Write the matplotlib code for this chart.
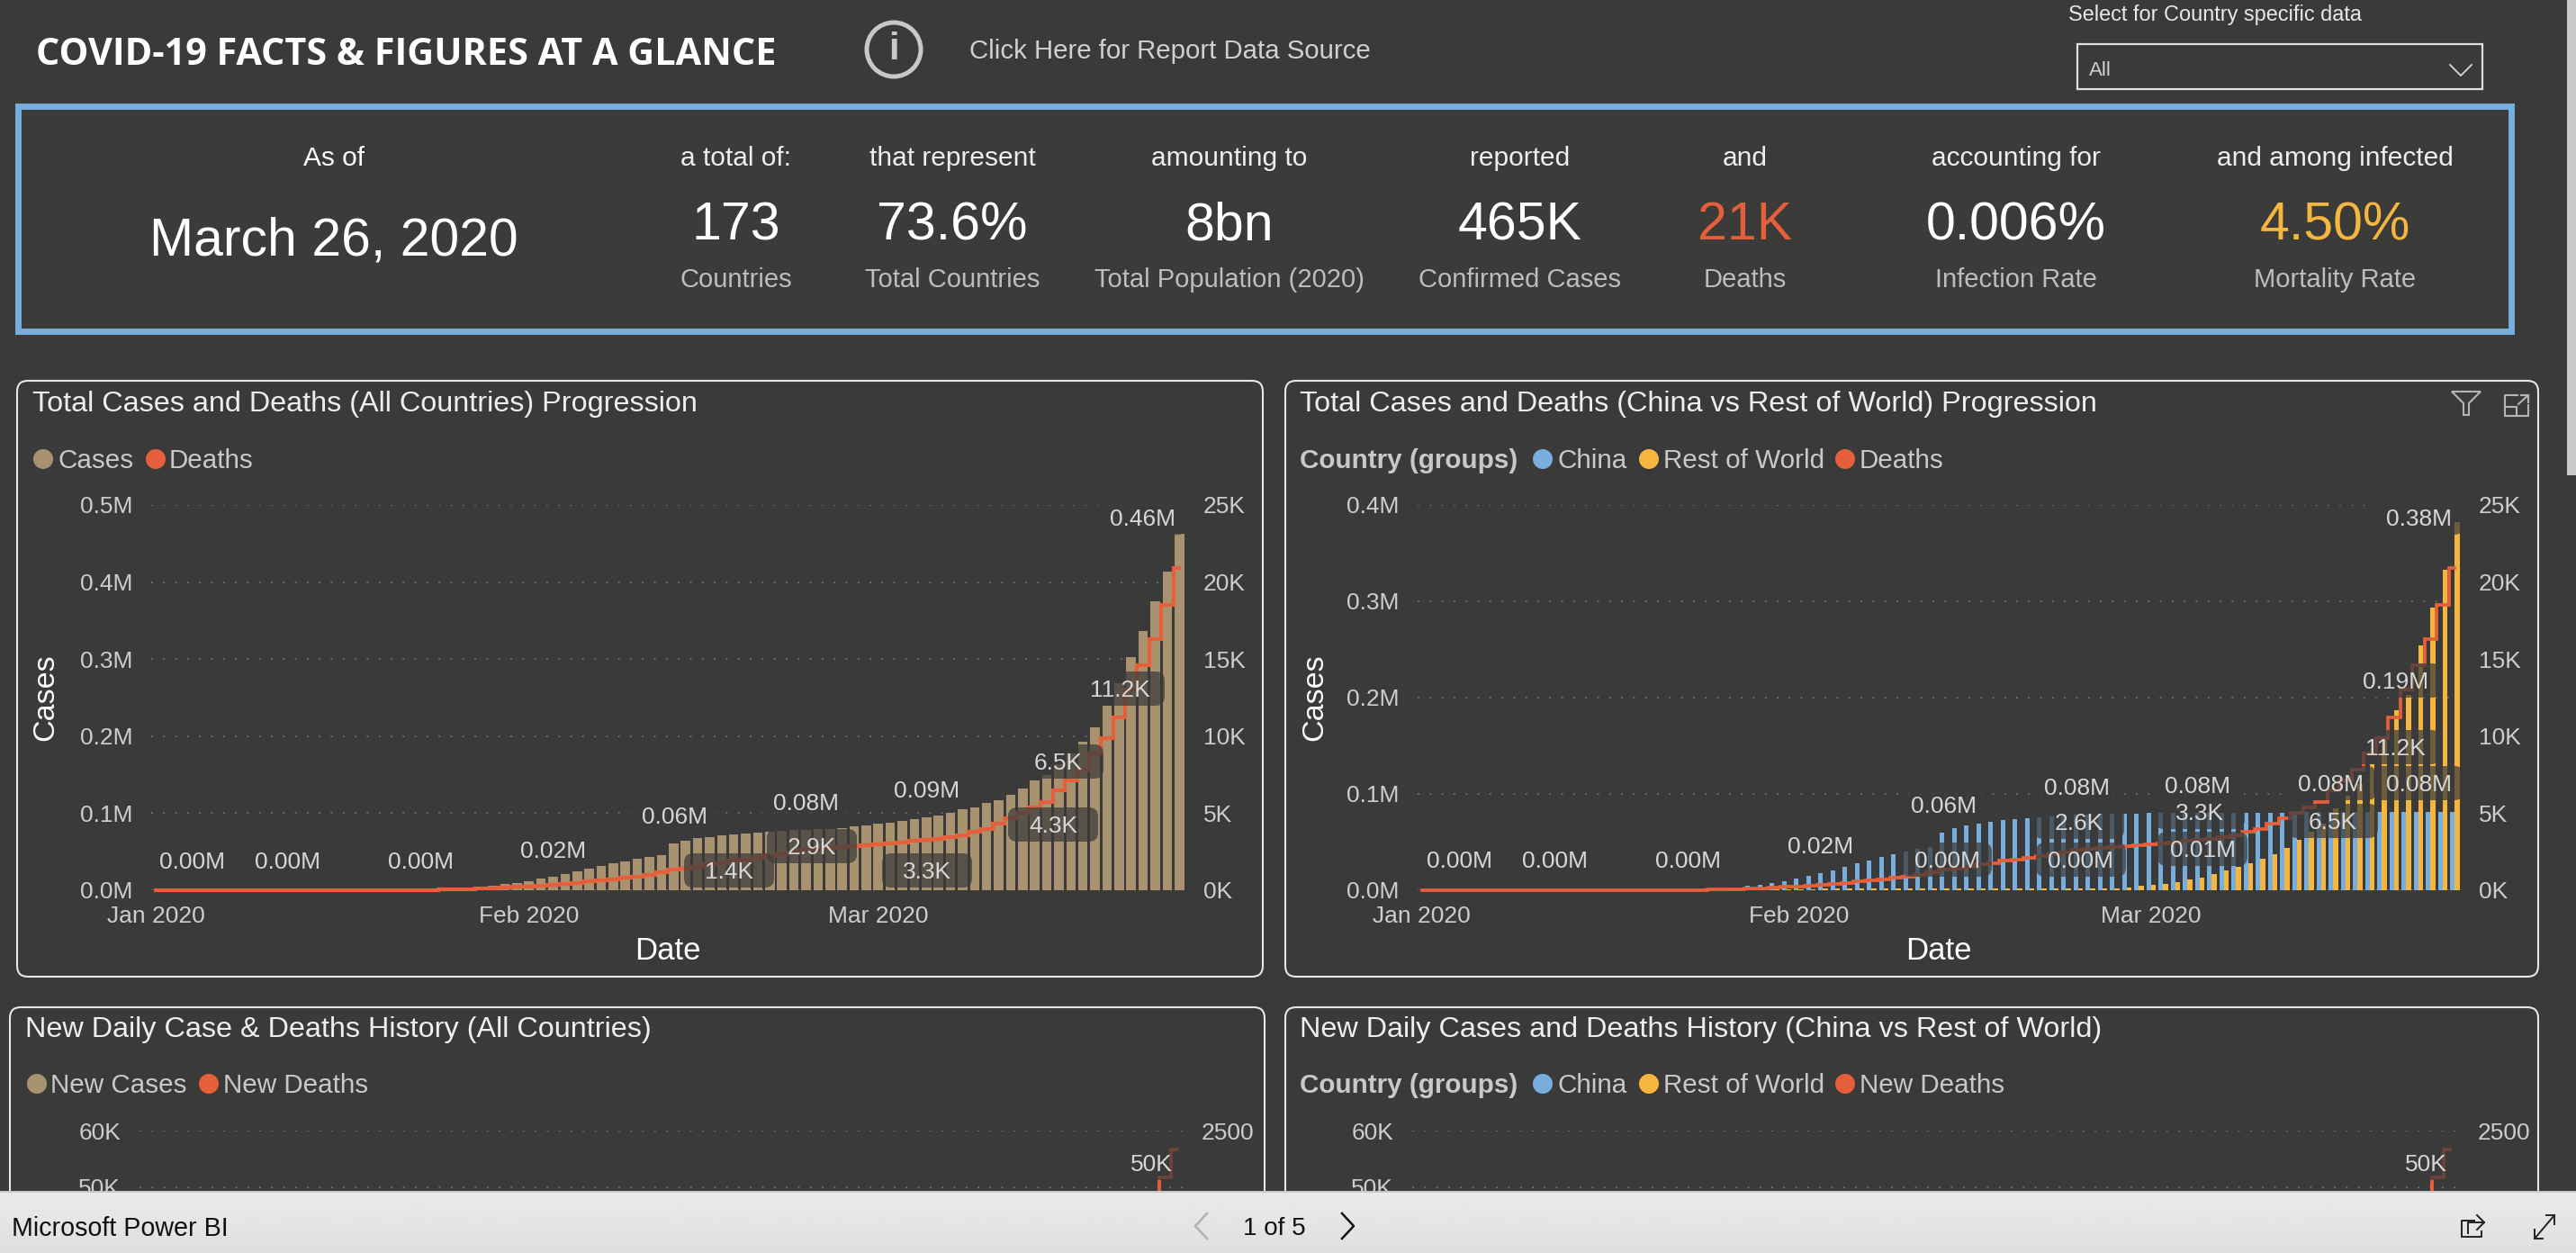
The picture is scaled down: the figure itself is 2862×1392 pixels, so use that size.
import matplotlib
matplotlib.use("Agg")
import matplotlib.pyplot as plt
import numpy as np
from matplotlib.patches import Circle, FancyBboxPatch, Polygon, Rectangle

W, H = 2862, 1392
BG = "#3a3a3a"
TAN = "#a9926f"
ORANGE = "#e5603a"
BLUE = "#77aedd"
YELLOW = "#f4b63f"
TICK_GREY = "#cdcdcd"
BORDER = "#e6e6e6"

# --- values, one per day from Jan 1 to Mar 26 2020 ---
CASES_M = [0.0] * 21 + [
    0.0006, 0.00065, 0.0009, 0.0014, 0.002, 0.0029, 0.0045, 0.0062, 0.0078, 0.0096,
    0.0118, 0.015, 0.0177, 0.0208, 0.0245, 0.0281, 0.0313, 0.0349, 0.0375, 0.0405,
    0.043, 0.0452, 0.0603, 0.0645, 0.0672, 0.069, 0.0712, 0.0728, 0.0741, 0.075,
    0.076, 0.077, 0.078, 0.0785, 0.079, 0.0795, 0.081, 0.0825, 0.0846, 0.086,
    0.088, 0.0895, 0.092, 0.0945, 0.097, 0.1007, 0.105, 0.108, 0.113, 0.117,
    0.124, 0.132, 0.142, 0.15, 0.163, 0.178, 0.193, 0.212, 0.24, 0.269,
    0.303, 0.336, 0.3755, 0.414, 0.463,
]
CHINA_M = [0.0] * 21 + [
    0.00055, 0.00064, 0.0009, 0.0013, 0.002, 0.0028, 0.0044, 0.006, 0.0077, 0.0095,
    0.0117, 0.0148, 0.0175, 0.0205, 0.0243, 0.028, 0.031, 0.0346, 0.0372, 0.0402,
    0.0427, 0.0449, 0.0598, 0.0645, 0.0672, 0.0692, 0.071, 0.073, 0.074, 0.0748,
    0.0757, 0.0766, 0.0775, 0.0785, 0.0785, 0.079, 0.0792, 0.0795, 0.0798, 0.08,
    0.0801, 0.0802, 0.0803, 0.0804, 0.0805, 0.0806, 0.0806, 0.0807, 0.0807, 0.0808,
    0.0808, 0.0809, 0.0809, 0.081, 0.081, 0.0811, 0.0811, 0.0812, 0.0812, 0.0812,
    0.0813, 0.0813, 0.0813, 0.0813, 0.0813,
]
REST_M = [0.0] * 21 + [
    0.0001, 0.0001, 0.0001, 0.0002, 0.0002, 0.0003, 0.0005, 0.0007, 0.0008, 0.001,
    0.0012, 0.0014, 0.0015, 0.0016, 0.0017, 0.0017, 0.0018, 0.0018, 0.0018, 0.0019,
    0.0019, 0.0019, 0.002, 0.002, 0.002, 0.002, 0.002, 0.002, 0.002, 0.002,
    0.002, 0.002, 0.002, 0.002, 0.002, 0.002, 0.002, 0.003, 0.0045, 0.0055,
    0.007, 0.0085, 0.011, 0.013, 0.0168, 0.0206, 0.0243, 0.028, 0.0327, 0.0374,
    0.044, 0.052, 0.0607, 0.069, 0.085, 0.098, 0.11, 0.131, 0.1565, 0.187,
    0.203, 0.254, 0.2933, 0.3327, 0.382,
]
DEATHS_K = [0.0] * 21 + [
    0.017, 0.018, 0.025, 0.041, 0.056, 0.08, 0.106, 0.13, 0.17, 0.21,
    0.26, 0.3, 0.36, 0.43, 0.49, 0.56, 0.64, 0.72, 0.8, 0.9,
    1.0, 1.14, 1.37, 1.39, 1.54, 1.7, 1.77, 1.9, 1.97, 2.1,
    2.2, 2.35, 2.46, 2.6, 2.66, 2.72, 2.8, 2.89, 2.94, 2.99,
    3.05, 3.12, 3.2, 3.27, 3.35, 3.45, 3.56, 3.8, 4.0, 4.3,
    4.7, 5.0, 5.4, 5.75, 6.5, 7.1, 7.8, 8.9, 9.9, 11.2,
    13.0, 14.6, 16.3, 18.5, 20.9,
]
# only the top of the lower charts shows above the bottom bar
LAST_DAYS = [82, 83, 84, 85]
NEW_CASES = [27000, 34000, 41000, 49000]
NEW_DEATHS = [1700, 1900, 2156, 2361]

MONTH_DAYS = [0, 31, 60]
MONTH_LABELS = ["Jan 2020", "Feb 2020", "Mar 2020"]

LEFT_TICKS_ALL = [0, 0.1, 0.2, 0.3, 0.4, 0.5]
LEFT_LABELS_ALL = ["0.0M", "0.1M", "0.2M", "0.3M", "0.4M", "0.5M"]
LEFT_TICKS_CHINA = [0, 0.1, 0.2, 0.3, 0.4]
LEFT_LABELS_CHINA = ["0.0M", "0.1M", "0.2M", "0.3M", "0.4M"]
RIGHT_TICKS = [0, 5, 10, 15, 20, 25]
RIGHT_LABELS = ["0K", "5K", "10K", "15K", "20K", "25K"]

HEADER_COLUMNS = [
    ("a total of:", "173", "Countries", "white"),
    ("that represent", "73.6%", "Total Countries", "white"),
    ("amounting to", "8bn", "Total Population (2020)", "white"),
    ("reported", "465K", "Confirmed Cases", "white"),
    ("and", "21K", "Deaths", ORANGE),
    ("accounting for", "0.006%", "Infection Rate", "white"),
    ("and among infected", "4.50%", "Mortality Rate", YELLOW),
]
HEADER_X = [818, 1058, 1366, 1689, 1939, 2240, 2594]

# pixel centre of each data label: text, x, y
LABELS_ALL = [
    ("0.00M", 213, 956), ("0.00M", 319, 956), ("0.00M", 467, 956), ("0.02M", 615, 944),
    ("0.06M", 749, 906), ("0.08M", 896, 891), ("0.09M", 1030, 877), ("0.46M", 1269, 575),
    ("1.4K", 810, 967), ("2.9K", 902, 940), ("3.3K", 1030, 967), ("4.3K", 1170, 916),
    ("6.5K", 1176, 846), ("11.2K", 1244, 765),
]
LABELS_CHINA = [
    ("0.00M", 1622, 955), ("0.00M", 1727, 955), ("0.00M", 1875, 955), ("0.02M", 2023, 939),
    ("0.06M", 2159, 894), ("0.08M", 2307, 874), ("0.08M", 2442, 872), ("0.08M", 2590, 870),
    ("0.08M", 2687, 870), ("0.38M", 2687, 575), ("0.19M", 2662, 756),
    ("0.00M", 2163, 955), ("0.00M", 2312, 955), ("0.01M", 2447, 943),
    ("2.6K", 2310, 913), ("3.3K", 2444, 902), ("6.5K", 2592, 912), ("11.2K", 2661, 830),
]
LABELS_LOWER = [("50K", 1279, 1292), ("50K", 2695, 1292)]


def px_axes(fig, left, top, right, bottom, zorder=1):
    ax = fig.add_axes(
        [left / W, 1 - bottom / H, (right - left) / W, (bottom - top) / H], zorder=zorder
    )
    ax.patch.set_visible(False)
    return ax


def style_axes(ax, ax2, left_ticks, left_labels, right_ticks, right_labels, pad):
    ax.set_yticks(left_ticks, left_labels)
    ax2.set_yticks(right_ticks, right_labels)
    for a in (ax, ax2):
        for spine in a.spines.values():
            spine.set_visible(False)
        a.tick_params(axis="both", length=0, labelsize=19, labelcolor=TICK_GREY)
    ax.tick_params(axis="y", pad=pad)
    ax2.tick_params(axis="y", pad=pad)
    ax.set_axisbelow(True)
    ax.grid(axis="y", color="#686868", linewidth=1.44, linestyle=(0, (1, 5.65)))


def month_axis(ax):
    ax.set_xticks(MONTH_DAYS, MONTH_LABELS)
    ax.tick_params(axis="x", pad=12)
    ax.set_xlabel("Date", fontsize=25, color="white")
    ax.xaxis.set_label_coords(0.5, -0.12)


def rounded_panel(ax, left, top, right, bottom):
    ax.add_patch(
        FancyBboxPatch(
            (left + 10, top + 10), right - left - 20, bottom - top - 20,
            boxstyle="round,pad=10,rounding_size=12",
            facecolor="none", edgecolor=BORDER, linewidth=1.5,
        )
    )


def legend_row(ax, y, dot_y, items, size=21.3):
    for dot_x, text_x, label, color in items:
        ax.add_patch(Circle((dot_x, dot_y), 11, color=color, linewidth=0))
        ax.text(text_x, y, label, color="#c9c9c9", fontsize=size, va="center", ha="left")


def draw_labels(ax, labels):
    for text, x, y in labels:
        ax.add_patch(
            FancyBboxPatch(
                (x - 40, y - 9), 80, 18,
                boxstyle="round,pad=10,rounding_size=10",
                facecolor=BG, edgecolor="none", alpha=0.72, zorder=3,
            )
        )
    for text, x, y in labels:
        ax.text(x, y + 2, text, color="#d6d6d6", fontsize=19, ha="center", va="center", zorder=4)


def main():
    plt.rcParams["font.family"] = ["Liberation Sans", "DejaVu Sans"]
    fig = plt.figure(figsize=(W / 100, H / 100), dpi=100, facecolor=BG)

    # --- background layer: header, panels, legends ---
    back = fig.add_axes([0, 0, 1, 1], zorder=0)
    back.set_xlim(0, W)
    back.set_ylim(H, 0)
    back.axis("off")

    back.text(40, 61, "COVID-19 FACTS & FIGURES AT A GLANCE", color="white", fontsize=29.8,
              fontweight="bold", family="Open Sans", va="center")
    back.add_patch(Circle((993, 55), 30, facecolor="none", edgecolor="#c8c8c8", linewidth=3.6))
    back.text(993, 55, "i", color="#c8c8c8", fontsize=30, ha="center", va="center", fontweight="bold")
    back.text(1077, 57, "Click Here for Report Data Source", color="#d0d0d0", fontsize=21.2, va="center")
    back.text(2298, 16, "Select for Country specific data", color="#e8e8e8", fontsize=16.9, va="center")
    back.add_patch(Rectangle((2308, 49), 450, 50, facecolor="none", edgecolor="#e0e0e0", linewidth=1.6))
    back.text(2321, 78, "All", color="#d0d0d0", fontsize=16, va="center")
    back.plot([2722, 2734, 2746], [72, 84, 72], color="#d0d0d0", linewidth=1.4)

    back.add_patch(Rectangle((19.5, 118), 2770.5, 249.5, facecolor="#3b3b39", edgecolor=BLUE, linewidth=5))
    back.text(371, 176, "As of", color="white", fontsize=21.5, ha="center", va="center")
    back.text(371, 268, "March 26, 2020", color="white", fontsize=42.4, ha="center", va="center")
    for x, (top_text, value, sub, color) in zip(HEADER_X, HEADER_COLUMNS):
        back.text(x, 176, top_text, color="#eeeeee", fontsize=21.5, ha="center", va="center")
        back.text(x, 251, value, color=color, fontsize=42.5, ha="center", va="center")
        back.text(x, 311, sub, color="#bdbdbd", fontsize=21, ha="center", va="center")

    rounded_panel(back, 19, 423, 1403, 1085)
    rounded_panel(back, 1428, 423, 2820, 1085)
    rounded_panel(back, 11, 1119, 1405, 1450)
    rounded_panel(back, 1428, 1119, 2820, 1450)

    back.text(36, 449, "Total Cases and Deaths (All Countries) Progression", color="#eeeeee", fontsize=23.3, va="center")
    back.text(1444, 449, "Total Cases and Deaths (China vs Rest of World) Progression", color="#eeeeee", fontsize=23.3, va="center")
    back.text(28, 1144, "New Daily Case & Deaths History (All Countries)", color="#eeeeee", fontsize=23.3, va="center")
    back.text(1444, 1144, "New Daily Cases and Deaths History (China vs Rest of World)", color="#eeeeee", fontsize=23.3, va="center")

    legend_row(back, 512, 510, [(48, 64, "Cases", TAN), (173, 188, "Deaths", ORANGE)])
    back.text(1444, 512, "Country (groups)", color="#c9c9c9", fontsize=21.3, fontweight="bold", va="center")
    legend_row(back, 512, 510, [(1714, 1730, "China", BLUE), (1832, 1848, "Rest of World", YELLOW), (2050, 2066, "Deaths", ORANGE)])
    legend_row(back, 1206, 1204, [(41, 56, "New Cases", TAN), (232, 248, "New Deaths", ORANGE)])
    back.text(1444, 1206, "Country (groups)", color="#c9c9c9", fontsize=21.3, fontweight="bold", va="center")
    legend_row(back, 1206, 1204, [(1714, 1730, "China", BLUE), (1832, 1848, "Rest of World", YELLOW), (2050, 2066, "New Deaths", ORANGE)])

    # filter and expand icons
    back.add_patch(Polygon([(2724, 435), (2756, 435), (2743, 448), (2743, 461), (2737, 461), (2737, 448)],
                           closed=True, facecolor="none", edgecolor="#b5b5b5", linewidth=1.5))
    back.plot([2797, 2783, 2783, 2809, 2809], [439, 439, 462, 462, 450], color="#b5b5b5", linewidth=1.5)
    back.plot([2783, 2796, 2796], [452, 452, 462], color="#b5b5b5", linewidth=1.5)
    back.plot([2798, 2809], [449, 439], color="#b5b5b5", linewidth=1.5)
    back.plot([2801, 2809, 2809], [439, 439, 447], color="#b5b5b5", linewidth=1.5)

    days = np.arange(len(CASES_M))

    # --- total cases, all countries ---
    ax = px_axes(fig, 168, 561, 1316, 989)
    ax.bar(days, CASES_M, width=0.79, color=TAN)
    ax.set_xlim(-0.37, 85.43)
    ax.set_ylim(0, 0.5)
    ax2 = ax.twinx()
    ax2.patch.set_visible(False)
    ax2.step(days, DEATHS_K, where="mid", color=ORANGE, linewidth=3.0,
             solid_joinstyle="miter", clip_on=False)
    ax2.set_ylim(0, 25)
    style_axes(ax, ax2, LEFT_TICKS_ALL, LEFT_LABELS_ALL, RIGHT_TICKS, RIGHT_LABELS, 15)
    month_axis(ax)
    ax.set_ylabel("Cases", fontsize=24.6, color="white")
    ax.yaxis.set_label_coords((66 - 168) / 1148, 0.5)

    # --- total cases, China vs rest of world ---
    ax = px_axes(fig, 1575, 561, 2733, 989)
    ax.bar(days - 0.196, CHINA_M, width=0.392, color=BLUE)
    ax.bar(days + 0.196, REST_M, width=0.392, color=YELLOW)
    ax.set_xlim(-0.36, 85.42)
    ax.set_ylim(0, 0.4)
    ax2 = ax.twinx()
    ax2.patch.set_visible(False)
    ax2.step(days, DEATHS_K, where="mid", color=ORANGE, linewidth=2.7,
             solid_joinstyle="miter", clip_on=False)
    ax2.set_ylim(0, 25)
    style_axes(ax, ax2, LEFT_TICKS_CHINA, LEFT_LABELS_CHINA, RIGHT_TICKS, RIGHT_LABELS, 15)
    month_axis(ax)
    ax.set_ylabel("Cases", fontsize=24.6, color="white")
    ax.yaxis.set_label_coords((1476 - 1575) / 1158, 0.5)

    # --- lower charts, mostly hidden by the bottom bar ---
    for left, right, xmax in [(155, 1314, 85.45), (1569, 2732, 85.75)]:
        ax = px_axes(fig, left, 1256, right, H)
        ax.bar(LAST_DAYS, NEW_CASES, width=0.79, color=TAN)
        ax.set_xlim(-0.37, xmax)
        ax.set_ylim(60000 - 136 / 378 * 60000, 60000)
        ax2 = ax.twinx()
        ax2.patch.set_visible(False)
        ax2.step(LAST_DAYS, NEW_DEATHS, where="mid", color=ORANGE, linewidth=2.8, solid_joinstyle="miter")
        ax2.set_ylim(2500 - 136 / 378 * 2500, 2500)
        style_axes(ax, ax2, [50000, 60000], ["50K", "60K"], [2500], ["2500"], 15)
        ax.set_xticks([])

    # --- overlay: data labels with see-through boxes, bottom bar, scrollbar ---
    over = fig.add_axes([0, 0, 1, 1], zorder=5)
    over.patch.set_visible(False)
    over.set_xlim(0, W)
    over.set_ylim(H, 0)
    over.axis("off")
    draw_labels(over, LABELS_ALL)
    draw_labels(over, LABELS_CHINA)
    draw_labels(over, LABELS_LOWER)

    gradient = np.linspace(0.92, 0.875, 32).reshape(-1, 1)
    over.imshow(gradient, extent=(0, W, H, 1323), cmap="gray", vmin=0, vmax=1,
                aspect="auto", zorder=6)
    over.set_xlim(0, W)
    over.set_ylim(H, 0)
    over.plot([0, W], [1323.5, 1323.5], color="#c8c8c8", linewidth=1.4, zorder=7)
    over.text(13, 1365, "Microsoft Power BI", color="#111111", fontsize=20.6, va="center", zorder=7)
    over.text(1416, 1365, "1 of 5", color="#111111", fontsize=20, ha="center", va="center", zorder=7)
    over.plot([1341, 1328, 1341], [1348, 1362, 1376], color="#b0b0b0", linewidth=1.8, zorder=7)
    over.plot([1491, 1504, 1491], [1348, 1362, 1376], color="#111111", linewidth=1.8, zorder=7)
    # share icon
    over.plot([2749, 2735, 2735, 2757, 2757], [1356, 1356, 1374, 1374, 1368], color="#222222", linewidth=1.4, zorder=7)
    over.plot([2742, 2742, 2760], [1370, 1358, 1358], color="#222222", linewidth=1.4, zorder=7)
    over.plot([2752, 2760, 2752], [1350, 1358, 1366], color="#222222", linewidth=1.4, zorder=7)
    # expand icon
    over.plot([2816, 2838], [1376, 1350], color="#222222", linewidth=1.4, zorder=7)
    over.plot([2816, 2816, 2825], [1366, 1376, 1376], color="#222222", linewidth=1.4, zorder=7)
    over.plot([2829, 2838, 2838], [1350, 1350, 1360], color="#222222", linewidth=1.4, zorder=7)

    over.add_patch(Rectangle((2852, 0), 10, 528, facecolor="#c9c9c9", edgecolor="none", zorder=7))

    fig.savefig("out.png", dpi=100, facecolor=BG)
    plt.close(fig)


if __name__ == "__main__":
    main()
